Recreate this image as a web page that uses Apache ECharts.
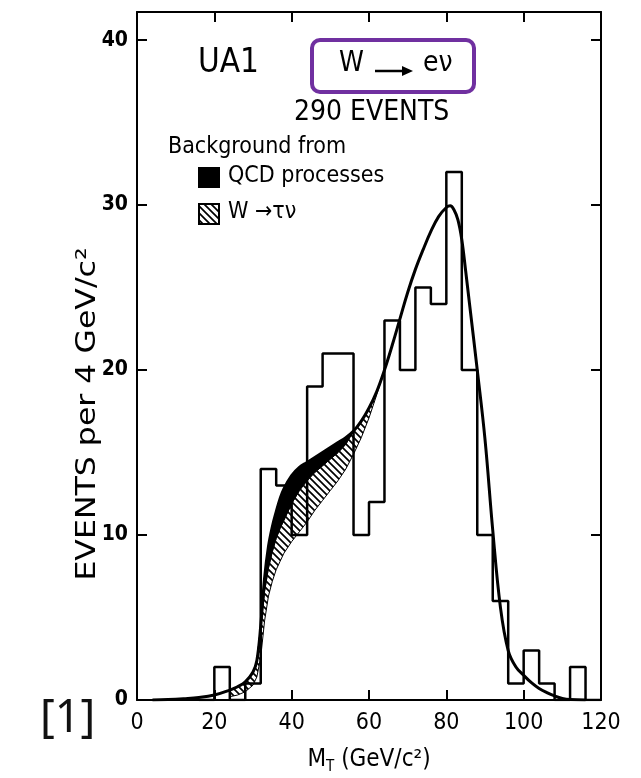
<!DOCTYPE html>
<html>
<head>
<meta charset="utf-8">
<title>UA1 W -> e nu</title>
<script src="https://cdn.jsdelivr.net/npm/echarts@6/dist/echarts.min.js"></script>
<style>
html,body{margin:0;padding:0;background:#fff;}
#main{width:641px;height:778px;}
</style>
</head>
<body>
<div id="main"></div>
<script>
// histogram: bin lower edges (GeV/c2) and counts per 4 GeV
var binLo = [16,20,24,28,32,36,40,44,48,52,56,60,64,68,72,76,80,84,88,92,96,100,104,108,112,116];
var counts = [0,2,0,1,14,13,10,19,21,21,10,12,23,20,25,24,32,20,10,6,1,3,1,0,2,0];
var binW = 4;

// fitted curve (total)
var fitM = [4,8,12,16,20,24,26,28,30,31,32,33,34,35,36,37,38,40,42,44,46,48,50,52,54,56,58,60,62,64,66,68,70,72,74,76,78,80,81,82,83,84,85,86,88,90,92,94,96,98,100,102,104,106,108,110,112,116];
var fitN = [0,0.03,0.08,0.15,0.3,0.6,0.8,1.1,1.7,2.4,4.5,7.4,9.3,10.5,11.4,12.2,12.8,13.6,14.1,14.4,14.7,15.0,15.3,15.6,15.9,16.3,16.9,17.7,18.7,20.0,21.5,23.1,24.7,26.1,27.3,28.4,29.3,29.85,29.95,29.7,29.1,27.9,26.0,24.0,20.0,15.8,10.3,5.6,3.0,2.0,1.5,1.05,0.7,0.45,0.25,0.1,0.03,0];

// background bands
var bandM   = [24,26,28,30,31,32,33,34,35,36,37,38,40,42,44,46,48,50,52,54,56,58,60,62,64];
var qcdLow  = [0.6,0.8,1.1,1.7,2.4,4.5,6.6,8.0,9.0,9.8,10.4,10.9,11.9,12.7,13.3,13.8,14.2,14.6,15.0,15.5,16.3,16.9,17.7,18.7,20.0];
var tauLow  = [0.2,0.3,0.5,0.9,1.4,2.6,4.8,6.3,7.2,7.9,8.4,8.9,9.6,10.2,10.8,11.5,12.1,12.7,13.3,14.0,14.9,15.9,17.1,18.5,20.0];

var yTicks = [0,10,20,30,40];

var FONT = "'DejaVu Sans Condensed', 'Liberation Sans Narrow', 'DejaVu Sans', sans-serif";

// top of band = fit curve
var fitMap = {};
fitM.forEach(function(m,i){ fitMap[m] = fitN[i]; });
var bandTop = bandM.map(function(m){ return fitMap[m]; });

// histogram outline
var histPts = [[binLo[0],0]];
binLo.forEach(function(lo,i){
	histPts.push([lo,counts[i]]);
	histPts.push([lo+binW,counts[i]]);
});
histPts.push([binLo[binLo.length-1]+binW,0]);

//斜线填充
function hatch(){
	var c = document.createElement('canvas');
	c.width = 7; c.height = 7;
	var g = c.getContext('2d');
	g.strokeStyle = '#000';
	g.lineWidth = 1.7;
	g.beginPath();
	g.moveTo(-1,-1); g.lineTo(8,8);
	g.moveTo(-1,6); g.lineTo(1,8);
	g.moveTo(6,-1); g.lineTo(8,1);
	g.stroke();
	return {image:c, repeat:'repeat'};
}
var hatchFill = hatch();

function band(top,low,fill,lw){
	return {
		type:'custom',
		coordinateSystem:'cartesian2d',
		silent:true,
		z:3,
		data:[[0,0]],
		renderItem:function(params,api){
			var pts = [];
			for(var i=0;i<bandM.length;i++){ pts.push(api.coord([bandM[i],top[i]])); }
			for(var j=bandM.length-1;j>=0;j--){ pts.push(api.coord([bandM[j],low[j]])); }
			return {type:'polygon',shape:{points:pts},style:{fill:fill,stroke:'#000',lineWidth:lw}};
		}
	};
}

var axisCommon = {
	type:'value',
	axisLine:{show:true,onZero:false,lineStyle:{color:'#000',width:2}},
	axisTick:{show:true,inside:true,length:10,lineStyle:{color:'#000',width:2}},
	splitLine:{show:false}
};

var chart = echarts.init(document.getElementById('main'));
chart.setOption({
	animation:false,
	backgroundColor:'#fff',
	grid:{left:137,right:40,top:12,bottom:78},
	xAxis:[
		Object.assign({},axisCommon,{position:'bottom',min:0,max:120,interval:20,
			axisLabel:{color:'#000',fontSize:23,fontFamily:FONT,margin:12}}),
		Object.assign({},axisCommon,{position:'top',min:0,max:120,interval:20,axisLabel:{show:false}})
	],
	yAxis:[
		Object.assign({},axisCommon,{position:'left',min:0,max:41.7,interval:10,
			axisLabel:{color:'#000',fontSize:21,fontWeight:'bold',fontFamily:FONT,margin:9,showMaxLabel:false,
				formatter:function(v){ return yTicks.indexOf(v)>=0 ? String(v) : ''; }}}),
		Object.assign({},axisCommon,{position:'right',min:0,max:41.7,interval:10,axisLabel:{show:false}})
	],
	series:[
		{type:'line',data:histPts,symbol:'none',z:2,lineStyle:{color:'#000',width:2.5}},
		band(bandTop,qcdLow,'#000',1),
		band(qcdLow,tauLow,hatchFill,1),
		{type:'line',data:fitM.map(function(m,i){return [m,fitN[i]];}),symbol:'none',z:4,
			smooth:0.4,lineStyle:{color:'#000',width:3}}
	],
	graphic:[
		{type:'text',left:198,top:47,style:{text:'UA1',fontSize:33,fontFamily:FONT,fill:'#000'}},
		{type:'rect',shape:{x:312,y:40,width:162,height:52,r:8},style:{fill:'none',stroke:'#7030a0',lineWidth:4}},
		{type:'text',left:339,top:50,style:{text:'W',fontSize:28,fontFamily:FONT,fill:'#000'}},
		{type:'line',shape:{x1:375,y1:71,x2:404,y2:71},style:{stroke:'#000',lineWidth:2.5}},
		{type:'polygon',shape:{points:[[402,66],[413,71],[402,76]]},style:{fill:'#000'}},
		{type:'text',left:423,top:50,style:{text:'e\u03BD',fontSize:28,fontFamily:FONT,fill:'#000'}},
		{type:'text',left:294,top:99,style:{text:'290 EVENTS',fontSize:28,fontFamily:FONT,fill:'#000'}},
		{type:'text',left:168,top:136,style:{text:'Background from',fontSize:23,fontFamily:FONT,fill:'#000'}},
		{type:'rect',shape:{x:198,y:167,width:22,height:21},style:{fill:'#000'}},
		{type:'text',left:228,top:165,style:{text:'QCD processes',fontSize:23,fontFamily:FONT,fill:'#000'}},
		{type:'rect',shape:{x:199,y:204,width:20,height:20},style:{fill:hatchFill,stroke:'#000',lineWidth:2}},
		{type:'text',left:228,top:201,style:{text:'W \u2192\u03C4\u03BD',fontSize:23,fontFamily:FONT,fill:'#000'}},
		{type:'text',x:88,y:414,rotation:Math.PI/2,scaleX:1.3,
			style:{text:'EVENTS per 4 GeV/c\u00B2',fontSize:27,fontFamily:FONT,fill:'#000',align:'center',verticalAlign:'middle'}},
		{type:'text',x:369,y:760,
			style:{text:'{a|M}{s|T}{a| (GeV/c\u00B2)}',align:'center',verticalAlign:'middle',
				rich:{a:{fontSize:24,fontFamily:FONT,fill:'#000'},s:{fontSize:15,fontFamily:FONT,fill:'#000',padding:[14,0,0,0]}}}},
		{type:'text',left:40,top:697,style:{text:'[1]',fontSize:45,fontFamily:"'Noto Sans', sans-serif",fill:'#111'}}
	]
});
</script>
</body>
</html>
